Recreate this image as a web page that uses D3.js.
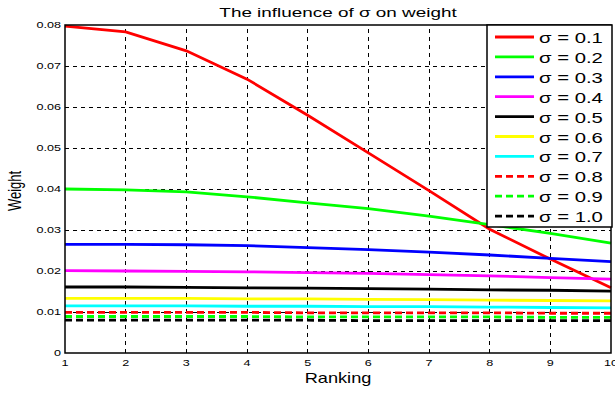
<!DOCTYPE html>
<html>
<head>
<meta charset="utf-8">
<script src="https://cdn.jsdelivr.net/npm/d3@7"></script>
<style>
  body { margin: 0; background: #fff; }
  text { font-family: "Liberation Sans", Arial, sans-serif; fill: #000; }
</style>
</head>
<body>
<div id="chart"></div>
<script>
// ranking positions 1..10
var ranking = [1, 2, 3, 4, 5, 6, 7, 8, 9, 10]

// weights, one array per sigma
var s01 = [0.0797, 0.0783, 0.0737, 0.0668, 0.0580, 0.0488, 0.0396, 0.0302, 0.0229, 0.0159]
var s02 = [0.0400, 0.0398, 0.0393, 0.0381, 0.0366, 0.0352, 0.0334, 0.0313, 0.0292, 0.0268]
var s03 = [0.0265, 0.0265, 0.0264, 0.0262, 0.0257, 0.0252, 0.0246, 0.0239, 0.0231, 0.0223]
var s04 = [0.0201, 0.0200, 0.0199, 0.0198, 0.0196, 0.0194, 0.0191, 0.0188, 0.0184, 0.0180]
var s05 = [0.0161, 0.0161, 0.0160, 0.0159, 0.0158, 0.0157, 0.0156, 0.0154, 0.0153, 0.0151]
var s06 = [0.0133, 0.0133, 0.0133, 0.0132, 0.0132, 0.0131, 0.0130, 0.0129, 0.0128, 0.0127]
var s07 = [0.0115, 0.0115, 0.0115, 0.0114, 0.0114, 0.0113, 0.0113, 0.0112, 0.0111, 0.0110]
var s08 = [0.0099, 0.0099, 0.0099, 0.0099, 0.0098, 0.0098, 0.0098, 0.0098, 0.0097, 0.0097]
var s09 = [0.0089, 0.0089, 0.0089, 0.0089, 0.0088, 0.0088, 0.0088, 0.0088, 0.0087, 0.0087]
var s10 = [0.0080, 0.0080, 0.0080, 0.0080, 0.0080, 0.0079, 0.0079, 0.0079, 0.0079, 0.0079]

var legendLabels = ["σ = 0.1", "σ = 0.2", "σ = 0.3", "σ = 0.4", "σ = 0.5",
                    "σ = 0.6", "σ = 0.7", "σ = 0.8", "σ = 0.9", "σ = 1.0"]
var colors = ["#ff0000", "#00ff00", "#0000ff", "#ff00ff", "#000000",
              "#ffff00", "#00ffff", "#ff0000", "#00ff00", "#000000"]
var dashed = [false, false, false, false, false, false, false, true, true, true]
var yTicks = [0, 0.01, 0.02, 0.03, 0.04, 0.05, 0.06, 0.07, 0.08]
var yTickLabels = ["0", "0.01", "0.02", "0.03", "0.04", "0.05", "0.06", "0.07", "0.08"]

var allSeries = [s01, s02, s03, s04, s05, s06, s07, s08, s09, s10]

var width = 615, height = 393
var margin = {left: 65, right: 4, top: 25, bottom: 40}
var stretch = 1.4   // the picture's text is stretched sideways

var svg = d3.select('#chart').append('svg')
  .attr('width', width)
  .attr('height', height)

var x = d3.scaleLinear().domain([1, 10]).range([margin.left, width - margin.right])
var y = d3.scaleLinear().domain([0, 0.08]).range([height - margin.bottom, margin.top])

// grid
svg.append('g')
  .selectAll('line')
  .data(ranking.slice(1, -1))
  .enter()
  .append('line')
  .attr('x1', d => x(d)).attr('x2', d => x(d))
  .attr('y1', y(0)).attr('y2', y(0.08))
  .attr('stroke', '#000').attr('stroke-width', 1)
  .attr('stroke-dasharray', '4,4').attr('shape-rendering', 'crispEdges')

svg.append('g')
  .selectAll('line')
  .data(yTicks.slice(1, -1))
  .enter()
  .append('line')
  .attr('x1', x(1)).attr('x2', x(10))
  .attr('y1', d => y(d)).attr('y2', d => y(d))
  .attr('stroke', '#000').attr('stroke-width', 1)
  .attr('stroke-dasharray', '4,4').attr('shape-rendering', 'crispEdges')

// series
var line = d3.line()
  .x((d, i) => x(ranking[i]))
  .y(d => y(d))

svg.append('g')
  .selectAll('path')
  .data(allSeries)
  .enter()
  .append('path')
  .attr('d', d => line(d))
  .attr('fill', 'none')
  .attr('stroke', (d, i) => colors[i])
  .attr('stroke-width', 2.8)
  .attr('stroke-dasharray', (d, i) => dashed[i] ? '7,4' : null)

// axes box
svg.append('rect')
  .attr('x', x(1)).attr('y', y(0.08))
  .attr('width', x(10) - x(1)).attr('height', y(0) - y(0.08))
  .attr('fill', 'none').attr('stroke', '#000').attr('stroke-width', 1.5)

function stretchedText(g, px, py, str, size, anchor) {
  return g.append('text')
    .attr('transform', 'translate(' + px + ',' + py + ') scale(' + stretch + ',1)')
    .attr('text-anchor', anchor)
    .style('font-size', size + 'px')
    .text(str)
}

// tick labels
var tickG = svg.append('g')
yTicks.forEach(function(t, i) {
  stretchedText(tickG, x(1) - 4, y(t) + 3, yTickLabels[i], 9, 'end')
})
ranking.forEach(function(r) {
  stretchedText(tickG, x(r), y(0) + 13, String(r), 9, 'middle')
})

// title and axis labels
var midX = (x(1) + x(10)) / 2
stretchedText(svg, midX, 17, 'The influence of σ on weight', 13.5, 'middle')
svg.append('text')
  .attr('transform', 'translate(' + midX + ',383) scale(1.3,1)')
  .attr('text-anchor', 'middle')
  .style('font-size', '14px')
  .text('Ranking')
svg.append('text')
  .attr('transform', 'translate(21,191) rotate(-90) scale(1,1.4)')
  .attr('text-anchor', 'middle')
  .style('font-size', '13px')
  .text('Weight')

// legend
var legend = svg.append('g').attr('class', 'legend')
legend.append('rect')
  .attr('x', 487).attr('y', 25)
  .attr('width', 125).attr('height', 202)
  .attr('fill', '#fff').attr('stroke', '#000').attr('stroke-width', 1.5)

legendLabels.forEach(function(lab, i) {
  var ly = 37 + i * 19.9
  legend.append('line')
    .attr('x1', 495).attr('x2', 534)
    .attr('y1', ly).attr('y2', ly)
    .attr('stroke', colors[i]).attr('stroke-width', 2.8)
    .attr('stroke-dasharray', dashed[i] ? '7,4' : null)
  stretchedText(legend, 539, ly + 6, lab, 14.5, 'start')
})
</script>
</body>
</html>
